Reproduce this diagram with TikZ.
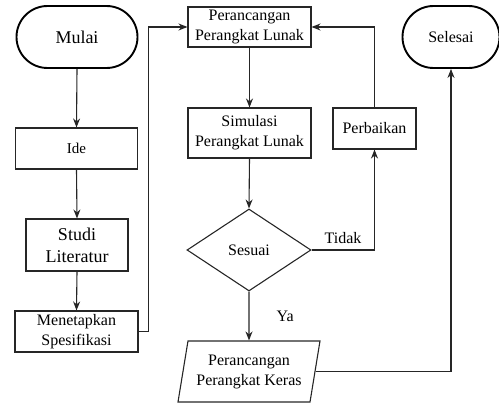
\documentclass[tikz,border=0pt]{standalone}
\usepackage{fontspec}
\setmainfont{Liberation Serif}
\usetikzlibrary{shapes.geometric,shapes.misc,arrows.meta}
\begin{document}
\begin{tikzpicture}[x=1pt,y=-1pt,
  every node/.style={font=\fontsize{16}{20}\selectfont, text=black, align=center, inner sep=0pt},
  box/.style={draw=black!85, line width=1.1pt, rectangle},
  term/.style={draw=black, line width=1.9pt, rounded rectangle},
  dec/.style={draw=black!85, line width=1.1pt, diamond, aspect=1.5},
  io/.style={draw=black!85, line width=1.1pt, trapezium, trapezium left angle=73.6, trapezium right angle=106.4, trapezium stretches body=true},
  conn/.style={draw=black!85, line width=1.1pt, -{Stealth[length=9pt,width=7pt]}},
  lbl/.style={font=\fontsize{16}{20}\selectfont}
]
\useasboundingbox (0,0) rectangle (499,404);
\node[term, minimum width=121, minimum height=62, font=\fontsize{18}{22}\selectfont] (mulai) at (77,37) {Mulai};
\node[box, minimum width=122, minimum height=41, font=\fontsize{15}{19}\selectfont] (ide) at (76.5,148.5) {Ide};
\node[box, minimum width=102, minimum height=52, font=\fontsize{18}{22}\selectfont] (studi) at (77,245) {Studi\\Literatur};
\node[box, minimum width=123, minimum height=41] (menetapkan) at (76.5,331.5) {Menetapkan\\Spesifikasi};
\node[box, minimum width=123, minimum height=40] (ppl) at (249.5,27) {Perancangan\\Perangkat Lunak};
\node[box, minimum width=123, minimum height=50] (sim) at (249.5,133) {Simulasi\\Perangkat Lunak};
\node[box, minimum width=83, minimum height=41] (perb) at (374.5,128.5) {Perbaikan};
\node[term, minimum width=97, minimum height=62] (selesai) at (451,37) {Selesai};
\node[dec, minimum width=124, minimum height=82] (sesuai) at (249,250) {Sesuai};
\node[io, minimum width=142, minimum height=61] (keras) at (249,371.5) {Perancangan\\Perangkat Keras};

\draw[conn] (mulai.south) -- (ide.north);
\draw[conn] (ide.south) -- (studi.north);
\draw[conn] (studi.south) -- (menetapkan.north);
\draw[conn] (menetapkan.east) -- ++(10,0) |- (ppl.west);
\draw[conn] (ppl.south) -- (sim.north);
\draw[conn] (sim.south) -- (sesuai.north);
\draw[conn] (sesuai.east) -- node[lbl, midway, above=6pt] {Tidak} (perb.south |- sesuai.east) -- (perb.south);
\draw[conn] (perb.north) |- (ppl.east);
\draw[conn] (sesuai.south) -- node[lbl, midway, right=27pt] {Ya} (keras.north);
\draw[conn] (keras.east) -| (selesai.south);
\end{tikzpicture}
\end{document}
